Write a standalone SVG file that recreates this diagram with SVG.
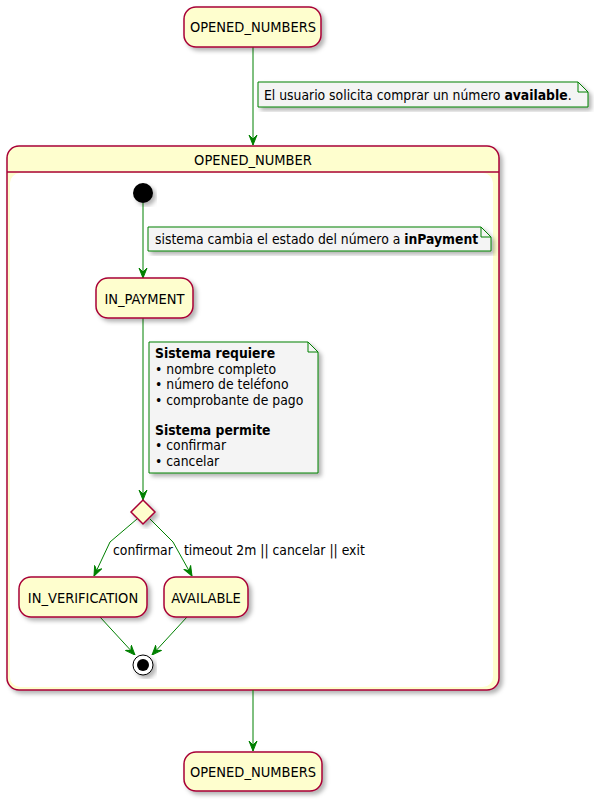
<svg xmlns="http://www.w3.org/2000/svg" width="594" height="804" viewBox="0 0 594 804">
<style>
.st{fill:#FEFECE;stroke:#A80036;stroke-width:1.5;filter:url(#sh)}
.nt{fill:#F4F4F4;stroke:#008000;stroke-width:1;filter:url(#sh)}
.fold{fill:none;stroke:#008000;stroke-width:1}
.ln{fill:none;stroke:#008000;stroke-width:1}
.lbl{font-family:"DejaVu Sans Condensed","DejaVu Sans",sans-serif;font-stretch:condensed;font-size:14.5px;fill:#000}
.ntx{font-family:"DejaVu Sans Condensed","DejaVu Sans",sans-serif;font-stretch:condensed;font-size:13.8px;fill:#000}
.c{text-anchor:middle}
</style>
<defs>
<filter id="sh" x="-20%" y="-20%" width="140%" height="140%">
<feDropShadow dx="3" dy="3" stdDeviation="2" flood-color="#000" flood-opacity="0.3"/>
</filter>
<marker id="ar" markerWidth="10" markerHeight="10" refX="10" refY="5" orient="auto" markerUnits="userSpaceOnUse">
<path d="M0,1 L10,5 L0,9 L4,5 Z" fill="#008000" stroke="#008000" stroke-width="1"/>
</marker>
</defs>

<g id="composite">
<rect x="7" y="146" width="492" height="544" rx="12" class="st"/>
<rect x="10" y="173" width="483" height="514" rx="10" fill="#FFFFFF"/>
<line x1="7" y1="172" x2="499" y2="172" stroke="#A80036" stroke-width="1.5"/>
<text x="253" y="165" class="lbl c">OPENED_NUMBER</text>
</g>

<g id="connectors">
<line x1="253" y1="47" x2="253" y2="145" class="ln" marker-end="url(#ar)"/>
<line x1="143" y1="203" x2="143" y2="278" class="ln" marker-end="url(#ar)"/>
<line x1="143" y1="318" x2="143" y2="500" class="ln" marker-end="url(#ar)"/>
<polyline points="137,519 110,542 94,576" class="ln" marker-end="url(#ar)"/>
<polyline points="150,519 173,542 192,576" class="ln" marker-end="url(#ar)"/>
<line x1="100" y1="617" x2="135" y2="655" class="ln" marker-end="url(#ar)"/>
<line x1="187" y1="617" x2="152" y2="655" class="ln" marker-end="url(#ar)"/>
<line x1="253" y1="690" x2="253" y2="751" class="ln" marker-end="url(#ar)"/>
<text x="113" y="555" class="ntx">confirmar</text>
<text x="184" y="555" class="ntx">timeout 2m || cancelar || exit</text>
</g>

<g id="opened_numbers_top">
<rect x="184" y="7" width="137" height="40" rx="12" class="st"/>
<text x="253" y="32" class="lbl c">OPENED_NUMBERS</text>
</g>

<g id="note1">
<path d="M258,82 L578,82 L588,92 L588,107 L258,107 Z" class="nt"/>
<path d="M578,82 L578,92 L588,92" class="fold"/>
<text x="264" y="100" class="ntx">El usuario solicita comprar un número <tspan font-weight="bold">available</tspan>.</text>
</g>

<g id="start">
<circle cx="143" cy="193" r="10" fill="#000" filter="url(#sh)"/>
</g>

<g id="note2">
<path d="M148,227 L481,227 L491,237 L491,251 L148,251 Z" class="nt"/>
<path d="M481,227 L481,237 L491,237" class="fold"/>
<text x="155" y="244" class="ntx">sistema cambia el estado del número a <tspan font-weight="bold">inPayment</tspan></text>
</g>

<g id="in_payment">
<rect x="96" y="278" width="97" height="40" rx="12" class="st"/>
<text x="144.5" y="304" class="lbl c">IN_PAYMENT</text>
</g>

<g id="note3">
<path d="M149,342 L308,342 L318,352 L318,473 L149,473 Z" class="nt"/>
<path d="M308,342 L308,352 L318,352" class="fold"/>
<text class="ntx">
<tspan x="155" y="358" font-weight="bold">Sistema requiere</tspan>
<tspan x="155" y="373.5">• nombre completo</tspan>
<tspan x="155" y="389">• número de teléfono</tspan>
<tspan x="155" y="404.5">• comprobante de pago</tspan>
<tspan x="155" y="435" font-weight="bold">Sistema permite</tspan>
<tspan x="155" y="450">• confirmar</tspan>
<tspan x="155" y="465.5">• cancelar</tspan>
</text>
</g>

<g id="choice">
<polygon points="143,500 155,512 143,524 131,512" class="st"/>
</g>

<g id="in_verification">
<rect x="19" y="577" width="128" height="40" rx="12" class="st"/>
<text x="83" y="603" class="lbl c">IN_VERIFICATION</text>
</g>

<g id="available">
<rect x="164" y="577" width="84" height="40" rx="12" class="st"/>
<text x="206" y="603" class="lbl c">AVAILABLE</text>
</g>

<g id="end">
<circle cx="143" cy="665" r="10" fill="#FFFFFF" stroke="#000" stroke-width="1" filter="url(#sh)"/>
<circle cx="143" cy="665" r="6" fill="#000"/>
</g>

<g id="opened_numbers_bottom">
<rect x="184" y="752" width="138" height="39" rx="12" class="st"/>
<text x="253" y="777" class="lbl c">OPENED_NUMBERS</text>
</g>
</svg>
